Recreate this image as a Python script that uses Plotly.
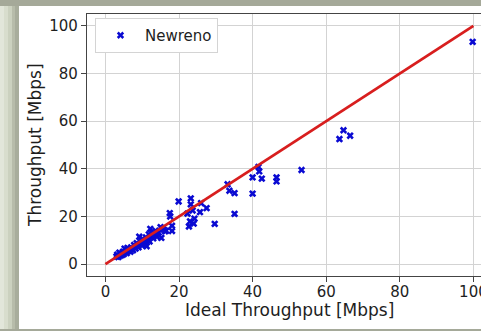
import plotly.graph_objects as go

# Measured points: ideal throughput (x) vs achieved throughput (y), Mbps
ideal = [3.0, 3.2, 3.5, 3.8, 4.0, 4.2, 4.5, 4.8, 5.0, 5.2, 5.5, 5.8, 6.0, 6.2, 6.5, 6.8,
         7.0, 7.2, 7.5, 7.8, 8.0, 8.2, 8.5, 8.8, 9.0, 9.2, 9.5, 9.8, 10.0, 10.2, 10.5,
         10.8, 11.0, 11.2, 11.5, 11.8, 12.0, 12.2, 12.5, 12.8, 13.0, 13.3, 13.6, 14.0,
         14.5, 15.0, 15.2, 15.8, 16.2, 16.5,
         17.5, 17.6, 18.1, 18.1, 19.9, 22.3, 22.7, 23.0, 23.2, 23.2, 23.7, 24.2, 24.0,
         25.7, 26.0, 27.5, 29.7, 33.2, 33.7, 35.1, 35.1, 40.0, 40.0, 41.6, 41.8, 42.5,
         46.5, 46.5, 53.3, 63.6, 64.7, 66.5, 99.8]
newreno = [3.2, 4.0, 2.9, 4.8, 3.5, 4.4, 3.8, 5.2, 4.2, 6.5, 5.0, 4.6, 6.8, 5.5, 6.0, 5.2,
           7.0, 6.2, 5.8, 8.0, 7.2, 6.5, 8.8, 7.5, 7.0, 11.5, 8.5, 9.6, 7.8, 10.5, 9.0,
           8.2, 11.2, 7.5, 10.0, 12.5, 9.5, 14.8, 11.8, 13.0, 10.8, 12.2, 14.0, 11.5,
           13.2, 15.5, 11.0, 14.6, 13.8, 14.0,
           21.4, 20.0, 16.1, 13.9, 26.3, 21.2, 15.8, 17.9, 27.6, 25.1, 22.5, 19.1, 17.0,
           21.8, 25.6, 23.5, 16.9, 33.5, 30.8, 29.8, 21.1, 36.4, 29.6, 40.8, 38.9, 35.9,
           36.4, 34.7, 39.5, 52.5, 56.2, 53.9, 93.3]
ref_line_x = [0, 100]
ref_line_y = [0, 100]
tick_vals = [0, 20, 40, 60, 80, 100]

FONT = "DejaVu Sans"
TXT = "#1e1e1e"

fig = go.Figure()
fig.add_trace(go.Scatter(
    x=ideal, y=newreno, mode="markers", name="Newreno",
    marker=dict(symbol="x", size=6.5, color="#0a0ad2", line=dict(width=0)),
))
fig.add_trace(go.Scatter(
    x=ref_line_x, y=ref_line_y, mode="lines", showlegend=False,
    line=dict(color="#d81e1e", width=2.8),
))

W, H = 481, 331
ml, mr, mt, mb = 87, 0, 14, 55
pw, ph = W - ml - mr, H - mt - mb

def px_x(p):
    return (p - ml) / pw

def px_y(p):
    return (H - mb - p) / ph

shapes = [
    dict(type="rect", xref="paper", yref="paper", layer="below",
         x0=px_x(19), x1=px_x(490), y0=px_y(329), y1=px_y(6),
         fillcolor="white", line=dict(width=0)),
]
strips = [(0, 4, "#e2e6da"), (4, 8, "#d8ddcd"), (8, 12, "#cbd1bf"),
          (12, 15, "#b7bcaa"), (15, 19, "#a8ad9c")]
for a, b, c in strips:
    shapes.append(dict(type="rect", xref="paper", yref="paper", layer="below",
                       x0=px_x(a), x1=px_x(b), y0=px_y(329), y1=px_y(6),
                       fillcolor=c, line=dict(width=0)))

fig.update_layout(
    width=W, height=H,
    margin=dict(l=ml, r=mr, t=mt, b=mb, autoexpand=False),
    paper_bgcolor="#a5a999",
    plot_bgcolor="white",
    font=dict(family=FONT, size=15, color=TXT),
    shapes=shapes,
    showlegend=True,
    legend=dict(x=px_x(95), y=px_y(18), xanchor="left", yanchor="top",
                bgcolor="white", bordercolor="#d4d4d4", borderwidth=1,
                itemwidth=39,
                font=dict(size=15, family=FONT, color=TXT)),
    annotations=[
        dict(text="Ideal Throughput [Mbps]", xref="x", yref="paper", x=50, y=px_y(310),
             xanchor="center", yanchor="middle", showarrow=False,
             font=dict(size=17, family=FONT, color=TXT)),
        dict(text="Throughput [Mbps]", xref="paper", yref="paper", x=px_x(35), y=0.5,
             xanchor="center", yanchor="middle", textangle=-90, showarrow=False,
             font=dict(size=17, family=FONT, color=TXT)),
    ],
)
fig.update_xaxes(
    range=[-5, -5 + pw / 3.68], tickvals=tick_vals, showgrid=True,
    gridcolor="#d3d3d3", gridwidth=1, zeroline=False,
    showline=True, linecolor="#444444", linewidth=1.2, mirror=True,
    ticks="outside", ticklen=5, tickcolor="#444444", tickwidth=1,
    ticklabeloverflow="allow", ticklabelstandoff=-3,
    tickfont=dict(size=15, family=FONT, color=TXT), automargin=False,
)
fig.update_yaxes(
    range=[-5, 105], tickvals=tick_vals, showgrid=True,
    gridcolor="#d3d3d3", gridwidth=1, zeroline=False,
    showline=True, linecolor="#444444", linewidth=1.2, mirror=False,
    ticks="outside", ticklen=5, tickcolor="#444444", tickwidth=1,
    ticklabeloverflow="allow",
    tickfont=dict(size=15, family=FONT, color=TXT), automargin=False,
)

fig.write_html("out.html")
